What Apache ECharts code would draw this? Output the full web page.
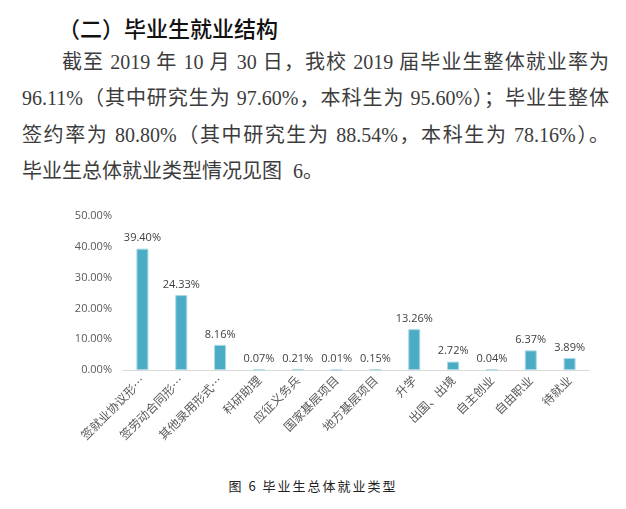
<!DOCTYPE html>
<html>
<head>
<meta charset="utf-8">
<script src="https://cdn.jsdelivr.net/npm/echarts@6/dist/echarts.min.js"></script>
<style>
    html, body {
        margin: 0;
        padding: 0;
        width: 626px;
        height: 509px;
        background: #fff;
        overflow: hidden;
    }
    .title {
        position: absolute;
        left: 58px;
        top: 11px;
        font-family: "Noto Sans CJK SC", sans-serif;
        font-size: 22px;
        font-weight: 500;
        color: #111;
        white-space: nowrap;
    }
    .line {
        position: absolute;
        left: 22px;
        width: 587px;
        font-family: "Liberation Serif", "Noto Sans CJK SC", serif;
        font-size: 20px;
        line-height: 24px;
        color: #3c3c3c;
        white-space: nowrap;
        text-align: justify;
        text-align-last: justify;
    }
    .line.last {
        text-align: left;
        text-align-last: left;
        word-spacing: 6px;
    }
    #chartBox {
        position: absolute;
        left: 0;
        top: 200px;
        width: 626px;
        height: 270px;
    }
    .caption {
        position: absolute;
        left: 0;
        width: 626px;
        top: 476px;
        text-align: center;
        font-family: "Noto Sans CJK SC", sans-serif;
        font-size: 13px;
        letter-spacing: 2px;
        color: #222;
    }
</style>
</head>
<body>
<div class="title">（二）毕业生就业结构</div>
<div class="line" style="top:50px;left:62px;width:547px;">截至 2019 年 10 月 30 日，我校 2019 届毕业生整体就业率为</div>
<div class="line" style="top:86px;">96.11%（其中研究生为 97.60%，本科生为 95.60%）；毕业生整体</div>
<div class="line" style="top:123px;">签约率为 80.80%（其中研究生为 88.54%，本科生为 78.16%）。</div>
<div class="line last" style="top:159px;">毕业生总体就业类型情况见图 6。</div>
<div id="chartBox"></div>
<div class="caption">图 6 毕业生总体就业类型</div>
<script>
    /**
     * 毕业生总体就业类型 数据
     */
    var categories = ['签就业协议形式就业', '签劳动合同形式就业', '其他录用形式就业', '科研助理', '应征义务兵',
        '国家基层项目', '地方基层项目', '升学', '出国、出境', '自主创业', '自由职业', '待就业'];
    var rates = [39.40, 24.33, 8.16, 0.07, 0.21, 0.01, 0.15, 13.26, 2.72, 0.04, 6.37, 3.89];
    var yTicks = [0, 10, 20, 30, 40, 50];

    var chartBox = document.getElementById('chartBox');
    var jobChart = echarts.init(chartBox);
    var option = {
        animation: false,
        grid: {
            top: 16,
            bottom: 100,
            left: 123,
            right: 37
        },
        xAxis: {
            type: 'category',
            data: categories,
            axisLine: {
                lineStyle: {color: '#d9d9d9', width: 1}
            },
            axisTick: {show: false},
            axisLabel: {
                interval: 0,
                rotate: 45,
                margin: 8,
                color: '#595959',
                fontSize: 12,
                fontFamily: 'Noto Sans CJK SC',
                formatter: function (name) {
                    return name.length > 6 ? name.slice(0, 6) + '…' : name;
                }
            }
        },
        yAxis: {
            type: 'value',
            min: yTicks[0],
            max: yTicks[yTicks.length - 1],
            interval: 10,
            splitLine: {show: false},
            axisLine: {show: false},
            axisTick: {show: false},
            axisLabel: {
                margin: 11,
                color: '#595959',
                fontSize: 11,
                fontFamily: 'Open Sans',
                formatter: function (v) {
                    return v.toFixed(2) + '%';
                }
            }
        },
        series: [
            {
                name: '就业类型',
                type: 'bar',
                data: rates,
                barWidth: 12,
                itemStyle: {
                    color: '#4bacc6',
                    borderColor: '#a9d8e5',
                    borderWidth: 1
                },
                label: {
                    show: true,
                    position: 'top',
                    distance: 5,
                    color: '#404040',
                    fontSize: 11,
                    fontFamily: 'Open Sans',
                    formatter: function (p) {
                        return p.value.toFixed(2) + '%';
                    }
                }
            }
        ]
    };
    jobChart.setOption(option);
    window.addEventListener('resize', function () {
        jobChart.resize();
    });
</script>
</body>
</html>
